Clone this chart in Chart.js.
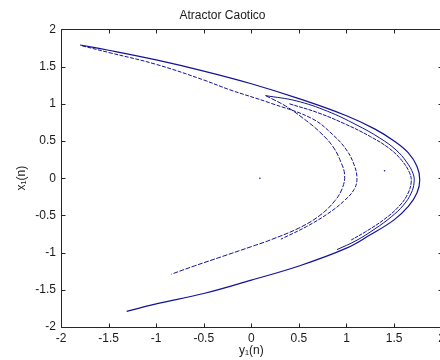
<!DOCTYPE html>
<html>
<head>
<meta charset="utf-8">
<title>Atractor Caotico</title>
<script src="https://cdn.jsdelivr.net/npm/chart.js@4/dist/chart.umd.min.js"></script>
<style>
    html, body { margin: 0; padding: 0; background: #fff; overflow: hidden; }
    #wrap { width: 449px; height: 360px; }
</style>
</head>
<body>
<div id="wrap"><canvas id="attractorChart" width="449" height="360"></canvas></div>
<script>
// Values: horizontal = y1(n), vertical = x1(n)

// outer arc, top-left tip -> right vertex -> bottom end
const outerY1 = [-1.80, -1.50, -1.00, -0.50, 0.00, 0.50, 1.00, 1.30, 1.50, 1.65, 1.74, 1.77, 1.74, 1.65, 1.50, 1.25, 1.00, 0.50, 0.00, -0.50, -1.00, -1.31];
const outerX1 = [1.79, 1.72, 1.59, 1.44, 1.27, 1.07, 0.84, 0.66, 0.50, 0.34, 0.16, -0.02, -0.20, -0.38, -0.56, -0.76, -0.94, -1.18, -1.37, -1.55, -1.69, -1.79];

// second arc from the tip, inner vertex near 1.1, ends at (0.31, -0.82)
const innerY1 = [-1.78, -1.50, -1.00, -0.50, -0.23, 0.20, 0.64, 0.86, 1.00, 1.08, 1.11, 1.08, 0.97, 0.80, 0.58, 0.31];
const innerX1 = [1.78, 1.69, 1.53, 1.32, 1.19, 1.01, 0.80, 0.58, 0.38, 0.18, 0.00, -0.15, -0.31, -0.48, -0.65, -0.82];

// hook lower arm, inner vertex near 0.98, ends at (-0.84, -1.29)
const hookLowY1 = [0.15, 0.36, 0.55, 0.72, 0.86, 0.94, 0.98, 0.96, 0.88, 0.72, 0.50, 0.20, 0.00, -0.30, -0.60, -0.84];
const hookLowX1 = [1.11, 0.97, 0.80, 0.62, 0.42, 0.22, 0.05, -0.12, -0.30, -0.50, -0.67, -0.83, -0.92, -1.05, -1.18, -1.29];

// hook upper arm, joins the dense outer band
const hookUpY1 = [0.15, 0.47, 0.80, 1.10, 1.35, 1.52, 1.63, 1.70, 1.71, 1.68, 1.60, 1.47, 1.30, 1.10, 0.90];
const hookUpX1 = [1.11, 1.04, 0.90, 0.72, 0.54, 0.38, 0.22, 0.06, -0.06, -0.20, -0.36, -0.52, -0.68, -0.84, -0.96];

// second small hook inside the band
const hook2Y1 = [0.40, 0.70, 1.00, 1.25, 1.45, 1.58, 1.66, 1.68, 1.64, 1.55, 1.40, 1.20, 1.05];
const hook2X1 = [1.00, 0.88, 0.72, 0.56, 0.40, 0.24, 0.08, -0.05, -0.22, -0.38, -0.55, -0.72, -0.83];

// stray transient points
const strayY1 = [0.09, 1.40];
const strayX1 = [0.00, 0.10];

const tickValues = [-2, -1.5, -1, -0.5, 0, 0.5, 1, 1.5, 2];

const lineColor = 'rgb(18, 18, 150)';

function toPoints(xs, ys) {
    return xs.map((x, i) => ({ x: x, y: ys[i] }));
}

function branch(xs, ys, dash, width) {
    return {
        data: toPoints(xs, ys),
        showLine: true,
        borderColor: lineColor,
        borderWidth: width || 1,
        borderDash: dash || [],
        pointRadius: 0,
        tension: 0.4
    };
}

// box round the plot with inward ticks on all four sides
const matlabFrame = {
    id: 'matlabFrame',
    afterDatasetsDraw(chart) {
        const { ctx, chartArea: a, scales: { x, y } } = chart;
        const L = Math.round(a.left) + 0.5, R = Math.round(a.right) + 0.5;
        const T = Math.round(a.top) + 0.5, B = Math.round(a.bottom) + 0.5;
        ctx.save();
        ctx.strokeStyle = '#262626';
        ctx.lineWidth = 1;
        ctx.beginPath();
        ctx.rect(L, T, R - L, B - T);
        x.ticks.forEach(t => {
            const px = Math.round(x.getPixelForValue(t.value)) + 0.5;
            ctx.moveTo(px, B); ctx.lineTo(px, B - 4);
            ctx.moveTo(px, T); ctx.lineTo(px, T + 4);
        });
        y.ticks.forEach(t => {
            const py = Math.round(y.getPixelForValue(t.value)) + 0.5;
            ctx.moveTo(L, py); ctx.lineTo(L + 4, py);
            ctx.moveTo(R, py); ctx.lineTo(R - 4, py);
        });
        ctx.stroke();
        ctx.restore();
    }
};

Chart.defaults.font.family = '"Liberation Sans", Arial, Helvetica, sans-serif';
Chart.defaults.font.size = 12;
Chart.defaults.color = '#1a1a1a';

new Chart(document.getElementById('attractorChart'), {
    type: 'scatter',
    data: {
        datasets: [
            branch(outerY1, outerX1, null, 1.2),
            branch(hookUpY1, hookUpX1),
            branch(hook2Y1, hook2X1, [4, 1]),
            branch(innerY1, innerX1, [4, 1.5]),
            branch(hookLowY1, hookLowX1, [5, 1.5]),
            {
                data: toPoints(strayY1, strayX1),
                pointRadius: 0.8,
                pointBorderWidth: 0,
                pointBackgroundColor: lineColor
            }
        ]
    },
    options: {
        responsive: false,
        animation: false,
        layout: { padding: { left: 0, right: 4, top: 0, bottom: 0 } },
        plugins: {
            legend: { display: false },
            tooltip: { enabled: false },
            title: {
                display: true,
                text: 'Atractor Caotico',
                font: { size: 12, weight: 'normal' },
                padding: { top: 8, bottom: 7 }
            }
        },
        scales: {
            x: {
                type: 'linear',
                min: -2,
                max: 2,
                afterBuildTicks: s => { s.ticks = tickValues.map(v => ({ value: v })); },
                afterFit: s => { s.height = 33; },
                grid: { display: false, drawTicks: false },
                border: { display: false },
                ticks: { padding: 4, maxRotation: 0, autoSkip: false, callback: v => String(v) },
                title: { display: true, text: 'y\u2081(n)', padding: { top: 0, bottom: 2 } }
            },
            y: {
                type: 'linear',
                min: -2,
                max: 2,
                afterBuildTicks: s => { s.ticks = tickValues.map(v => ({ value: v })); },
                afterFit: s => { s.width = 61; },
                grid: { display: false, drawTicks: false },
                border: { display: false },
                ticks: { padding: 5, autoSkip: false, callback: v => String(v) },
                title: { display: true, text: 'x\u2081(n)', padding: { top: 14, bottom: 0 } }
            }
        }
    },
    plugins: [matlabFrame]
});
</script>
</body>
</html>
